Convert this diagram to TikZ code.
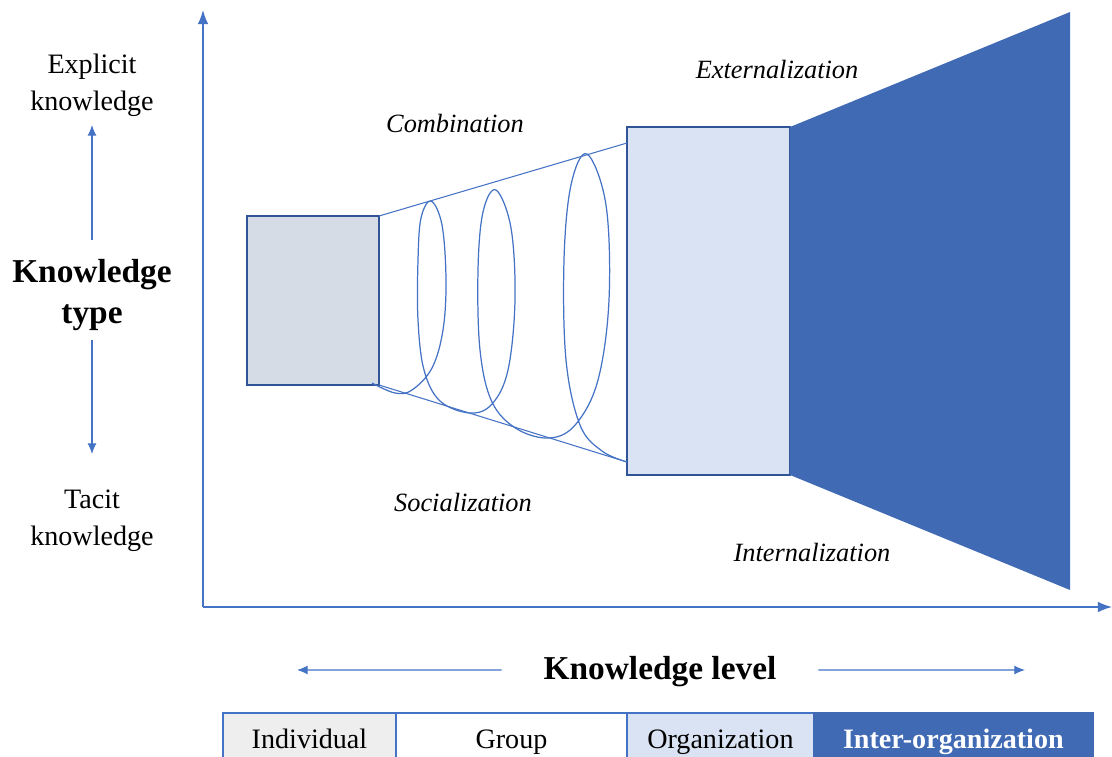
\documentclass[tikz,border=0pt]{standalone}
\usepackage{fontspec}
\setmainfont{Liberation Serif}
\usetikzlibrary{positioning,arrows.meta}
\definecolor{axisblue}{RGB}{68,114,196}
\definecolor{darkblue}{RGB}{47,85,151}
\definecolor{deepblue}{RGB}{64,106,180}
\definecolor{grayblue}{RGB}{214,220,229}
\definecolor{paleblue}{RGB}{218,227,243}
\definecolor{palegray}{RGB}{238,238,238}

\begin{document}
\begin{tikzpicture}[x=0.02cm,y=-0.02cm,
  every node/.style={inner sep=0pt,outer sep=0pt},
  axisline/.style={draw=axisblue,line width=0.8pt,-{Latex[length=8pt,width=6pt]}},
  sidearrow/.style={draw=axisblue,line width=0.6pt,-{Latex[length=6pt,width=5pt]}},
  boxed/.style={draw=darkblue,line width=1.4pt},
  phase/.style={font=\fontsize{15}{18}\selectfont\itshape},
  sidetext/.style={align=center,font=\fontsize{16}{21}\selectfont},
  headtext/.style={align=center,font=\fontsize{19}{23.5}\selectfont\bfseries},
  cell/.style={draw=axisblue,line width=0.8pt,minimum height=1.14cm,
    text height=1.0em,text depth=0.15em,font=\fontsize{16}{19}\selectfont}]
\useasboundingbox (0,0) rectangle (1112,757);

\coordinate (origin) at (203,607);
\coordinate (ytop) at (203,10);
\coordinate (xend) at (1112,607);
\draw[axisline] (origin) -- (ytop);
\draw[axisline] (origin) -- (xend);

\node[sidetext] (explicit) at (92,85) {Explicit\\knowledge};
\node[headtext] (ktype) at (92,295) {Knowledge\\type};
\node[sidetext] (tacit) at (92,521) {Tacit\\knowledge};
\coordinate (upfrom) at (92,240);
\coordinate (upto) at (92,125);
\coordinate (downfrom) at (92,340);
\coordinate (downto) at (92,454);
\draw[sidearrow] (upfrom) -- (upto);
\draw[sidearrow] (downfrom) -- (downto);

\node[boxed,fill=grayblue,minimum width=2.64cm,minimum height=3.38cm] (indiv) at (313,300.5) {};
\node[boxed,fill=paleblue,minimum width=3.26cm,minimum height=6.96cm] (org) at (708.5,301) {};
\coordinate (fartop) at (1070,12);
\coordinate (farbot) at (1070,590);
\fill[deepblue] (org.north east) -- (fartop) -- (farbot) -- (org.south east) -- cycle;

\coordinate (ctop) at (627,143);
\coordinate (cbot) at (627,462);
\draw[axisblue,line width=0.6pt] (indiv.north east) -- (ctop);
\draw[axisblue,line width=0.6pt] (indiv.south east) -- (cbot);
\draw[axisblue,line width=0.7pt] plot[smooth,tension=0.6] coordinates {
  (372,383) (395,393) (412,390) (432,368) (443,330) (446,280) (442,225)
  (431,201) (421,218) (418,260) (418,320) (424,370) (440,401) (470,413)
  (492,404) (508,370) (515,300) (511,228) (496,190) (483,212) (478,270)
  (480,350) (492,402) (517,429) (550,438) (576,424) (598,380) (609,300)
  (606,205) (587,154) (571,185) (564,260) (566,360) (580,425) (602,451)
  (627,462)};

\node[phase] (comb) at (455,123) {Combination};
\node[phase] (ext) at (777,69) {Externalization};
\node[phase] (soc) at (463,502) {Socialization};
\node[phase] (intern) at (812,552) {Internalization};

\node[headtext] (klevel) at (660,672) {Knowledge level};
\coordinate (levelL) at (297,670);
\coordinate (levelR) at (1025,670);
\draw[sidearrow] ([xshift=-0.84cm,yshift=0.04cm]klevel.west) -- (levelL);
\draw[sidearrow] ([xshift=0.84cm,yshift=0.04cm]klevel.east) -- (levelR);

\node[cell,fill=palegray,minimum width=3.46cm] (individual) at (309.5,741.5) {Individual};
\node[cell,fill=white,minimum width=4.62cm,right=0pt of individual] (group) {Group};
\node[cell,fill=paleblue,minimum width=3.74cm,right=0pt of group] (organization) {Organization};
\node[cell,fill=deepblue,draw=deepblue,text=white,font=\fontsize{16}{19}\selectfont\bfseries,
  minimum width=5.58cm,right=0pt of organization] (inter) {Inter-organization};
\end{tikzpicture}
\end{document}
